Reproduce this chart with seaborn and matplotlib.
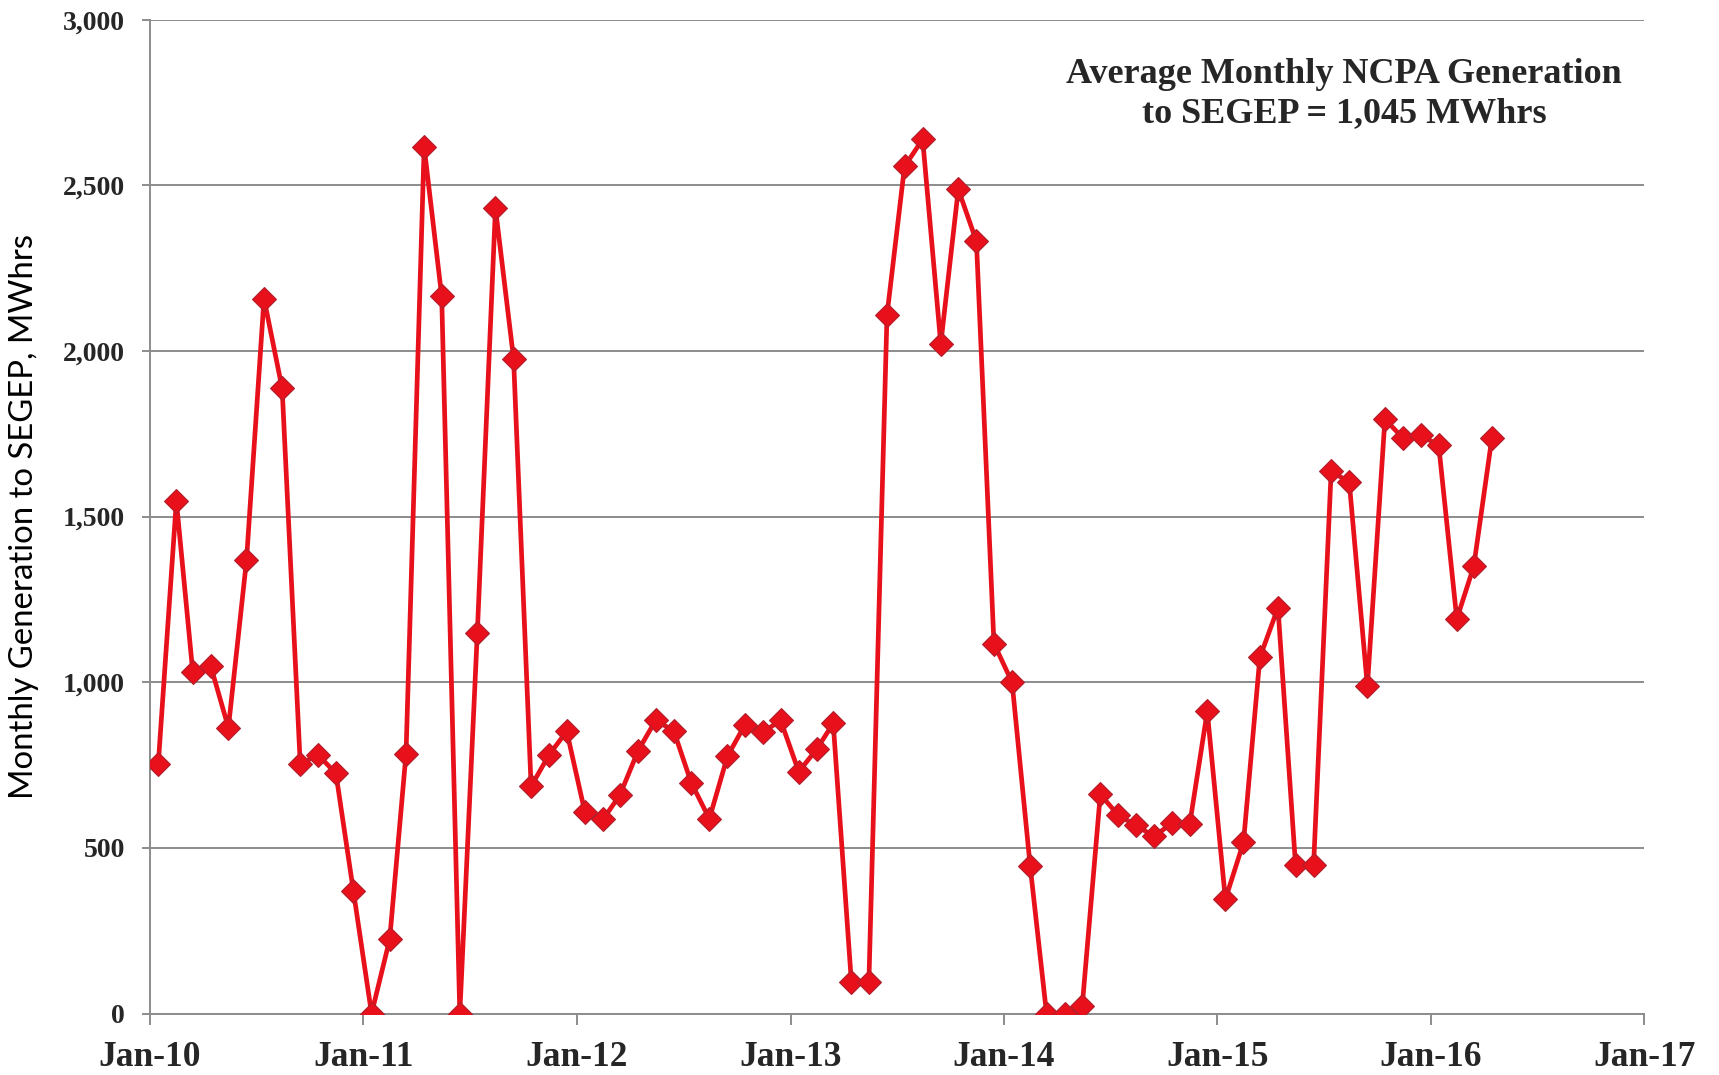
import pandas as pd
import matplotlib
matplotlib.use("Agg")
import matplotlib.pyplot as plt
import matplotlib.dates as mdates
import matplotlib.ticker as mticker
import seaborn as sns

# monthly NCPA generation to SEGEP, MWhrs (Jan-10 .. Apr-16)
gen_2010 = [752, 1547, 1032, 1048, 863, 1368, 2158, 1887, 752, 782, 725, 369]
gen_2011 = [0, 224, 785, 2616, 2165, 0, 1150, 2431, 1977, 686, 782, 852]
gen_2012 = [608, 586, 660, 793, 885, 854, 697, 588, 777, 872, 850, 885]
gen_2013 = [730, 799, 876, 96, 96, 2109, 2557, 2639, 2021, 2488, 2331, 1117]
gen_2014 = [1000, 445, 0, 0, 22, 662, 600, 568, 535, 574, 572, 912]
gen_2015 = [345, 517, 1075, 1225, 450, 450, 1637, 1604, 988, 1794, 1737, 1745]
gen_2016 = [1716, 1191, 1350, 1737]

generation = gen_2010 + gen_2011 + gen_2012 + gen_2013 + gen_2014 + gen_2015 + gen_2016
months = pd.date_range("2010-01-01", periods=len(generation), freq="MS") + pd.Timedelta(days=14)

note_text = "Average Monthly NCPA Generation\nto SEGEP = 1,045 MWhrs"
y_label = "Monthly Generation to SEGEP, MWhrs"

df = pd.DataFrame({"month": months, "mwh": generation})

sns.set_style("white")
plt.rcParams["font.family"] = ["Liberation Serif", "DejaVu Serif"]

fig, ax = plt.subplots(figsize=(17.19, 10.75), dpi=100)
fig.subplots_adjust(left=0.0873, right=0.9566, top=0.9817, bottom=0.0571)

sns.lineplot(data=df, x="month", y="mwh", ax=ax, color="#E8101A", linewidth=3.4,
             marker="D", markersize=12, markerfacecolor="#E8101A",
             markeredgecolor="#B0202E", markeredgewidth=0.8, zorder=3)

ax.set_ylim(0, 3000)
ax.set_xlim(pd.Timestamp("2010-01-01"), pd.Timestamp("2017-01-01"))
ax.yaxis.set_major_locator(mticker.MultipleLocator(500))
ax.yaxis.set_major_formatter(mticker.FuncFormatter(lambda v, p: f"{int(v):,}"))
ax.xaxis.set_major_locator(mdates.YearLocator())
ax.xaxis.set_major_formatter(mdates.DateFormatter("%b-%y"))

grey = "#8C8C8C"
ax.yaxis.grid(True, color=grey, linewidth=1.4)
ax.xaxis.grid(False)
sns.despine(ax=ax, top=True, right=True)
for side in ["left", "bottom"]:
    ax.spines[side].set_color(grey)
    ax.spines[side].set_linewidth(1.4)

ax.tick_params(axis="y", direction="out", length=6, width=1.4, color=grey, pad=12, left=True)
ax.tick_params(axis="x", direction="out", length=8, width=1.4, color=grey, pad=12, bottom=True)
for lab in ax.get_yticklabels():
    lab.set_fontweight("bold")
    lab.set_fontsize(20)
for lab in ax.get_xticklabels():
    lab.set_fontweight("bold")
    lab.set_fontsize(25.5)

ax.set_xlabel("")
ax.set_ylabel(y_label, fontsize=23.7, family=["Lato", "DejaVu Sans"], color="black")
ax.yaxis.set_label_coords(-0.074, 0.5)

ax.text(0.799, 0.925, note_text, transform=ax.transAxes, ha="center", va="center",
        multialignment="center", fontsize=26, fontweight="bold", linespacing=1.25)

plt.savefig("out.png", dpi=100)
